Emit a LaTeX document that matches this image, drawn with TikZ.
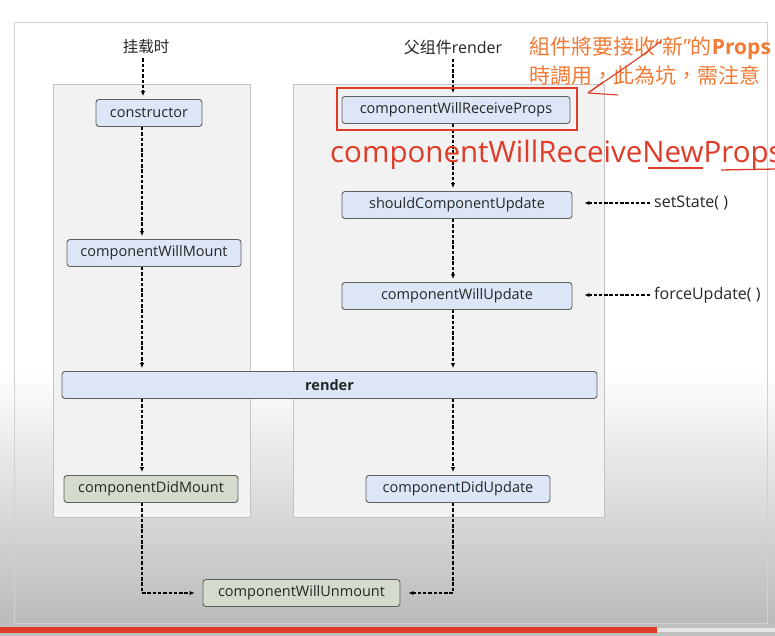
\documentclass[tikz,border=0pt]{standalone}
\usepackage{fontspec}
\setmainfont{Open Sans}
\newfontfamily\latinf{Open Sans}
\newfontfamily\cjksc{Noto Sans CJK SC}
\newfontfamily\cjktc{Noto Sans CJK TC}
\usetikzlibrary{arrows.meta}
\definecolor{bluefill}{RGB}{220,230,246}
\definecolor{greenfill}{RGB}{211,219,204}
\definecolor{boxline}{RGB}{95,95,95}
\definecolor{panelfill}{RGB}{242,242,242}
\definecolor{panelline}{RGB}{195,195,195}
\definecolor{hlred}{RGB}{222,60,40}
\definecolor{annot}{RGB}{242,122,52}
\begin{document}
\begin{tikzpicture}[x=1pt,y=-1pt,
  box/.style={draw=boxline, rounded corners=3pt, fill=bluefill, inner sep=0pt, line width=0.9pt,
              font=\fontsize{14.5}{16}\selectfont, text=black!85},
  gbox/.style={box, fill=greenfill},
  flow/.style={dash pattern=on 3.5pt off 1.8pt, line width=1.1pt, -{Latex[length=5pt,width=4.5pt]}, shorten >=3pt},
  panel/.style={draw=panelline, fill=panelfill, line width=0.8pt},
  lbl/.style={inner sep=0pt, font=\fontsize{16}{18}\selectfont, text=black!85}]
\clip (0,0) rectangle (775,636);
% background
\fill[white] (0,0) rectangle (775,370);
\shade[top color=white, bottom color=black!28] (0,370) rectangle (775,636);
\draw[black!18, line width=0.8pt] (14,22) rectangle (767,623);
\fill[black!25] (0,624) rectangle (775,636);
\fill[black!10] (657,628) rectangle (775,632);
\fill[hlred] (0,627) rectangle (657,633);
% panels
\draw[panel] (53,84) rectangle (250,517);
\draw[panel] (293,84) rectangle (604,517);
% labels at top
\node[lbl, font=\cjksc\fontsize{15.5}{18}\selectfont] (mount) at (146,47) {挂载时};
\node[lbl] (parent) at (453,47) {{\cjksc 父组件}render};
% left column
\node[box, minimum width=106pt, minimum height=27pt] (ctor) at (149,113) {constructor};
\node[box, minimum width=174pt, minimum height=27pt] (cwm) at (154,253) {componentWillMount};
\node[box, minimum width=535pt, minimum height=27pt, font=\bfseries\fontsize{14.5}{16}\selectfont] (render) at (329.5,385) {render};
\node[gbox, minimum width=174pt, minimum height=27pt] (cdm) at (151,489) {componentDidMount};
% right column
\node[box, minimum width=228pt, minimum height=27pt] (cwrp) at (456,110) {componentWillReceiveProps};
\node[box, minimum width=230pt, minimum height=27pt] (scu) at (457,205) {shouldComponentUpdate};
\node[box, minimum width=230pt, minimum height=27pt] (cwu) at (457,296) {componentWillUpdate};
\node[box, minimum width=184pt, minimum height=27pt] (cdu) at (458,489) {componentDidUpdate};
\node[gbox, minimum width=197pt, minimum height=27pt] (cwun) at (301.5,593) {componentWillUnmount};
% side triggers
\node[lbl, anchor=west] (setstate) at (654,203) {setState( )};
\node[lbl, anchor=west] (force) at (654,295) {forceUpdate( )};
% connectors left
\draw[flow, shorten <=4pt] (mount.south -| 143,0) -- (ctor.north -| 143,0);
\draw[flow] (ctor.south -| 142,0) -- (cwm.north -| 142,0);
\draw[flow] (cwm.south -| 142,0) -- (render.north -| 142,0);
\draw[flow] (render.south -| 142,0) -- (cdm.north -| 142,0);
\draw[flow, shorten >=8pt] (cdm.south -| 142,0) |- (cwun.west);
% connectors right
\draw[flow, shorten <=4pt] (parent.south -| 453,0) -- (cwrp.north -| 453,0);
\draw[flow] (cwrp.south -| 453,0) -- (scu.north -| 453,0);
\draw[flow] (scu.south -| 453,0) -- (cwu.north -| 453,0);
\draw[flow] (cwu.south -| 453,0) -- (render.north -| 453,0);
\draw[flow] (render.south -| 453,0) -- (cdu.north -| 453,0);
\draw[flow, shorten >=8pt] (cdu.south -| 453,0) |- (cwun.east);
\draw[flow, shorten >=12pt, shorten <=4pt] (setstate.west) -- (scu.east |- setstate.west);
\draw[flow, shorten >=12pt, shorten <=4pt] (force.west) -- (cwu.east |- force.west);
% highlight
\draw[hlred, line width=1.6pt] (337,88) rectangle (577,130);
\node[anchor=base west, inner sep=0pt, text=hlred, font=\fontsize{29.5}{33}\selectfont] (big) at (330,163) {componentWillReceiveNewProps};
\draw[hlred, line width=1.3pt] (648,168) -- (703,168);
\draw[hlred, line width=1.3pt] (721,170) -- (775,169);
% annotation
\node[anchor=base west, inner sep=0pt, text=annot, font=\cjktc\fontsize{21}{23}\selectfont] (ann1) at (529,55) {組件將要接收{\latinf “}新{\latinf ”}的{\latinf\bfseries Props}};
\node[anchor=base west, inner sep=0pt, text=annot, font=\cjktc\fontsize{21}{23}\selectfont] (ann2) at (529,84) {時調用，此為坑，需注意};
\coordinate (tip) at (588,93);
\draw[hlred, line width=1.1pt] (661,41) .. controls (640,58) and (612,76) .. (tip);
\draw[hlred, line width=1.1pt] (tip) -- (603,82);
\draw[hlred, line width=1.1pt] (tip) -- (618,95);
\end{tikzpicture}
\end{document}
